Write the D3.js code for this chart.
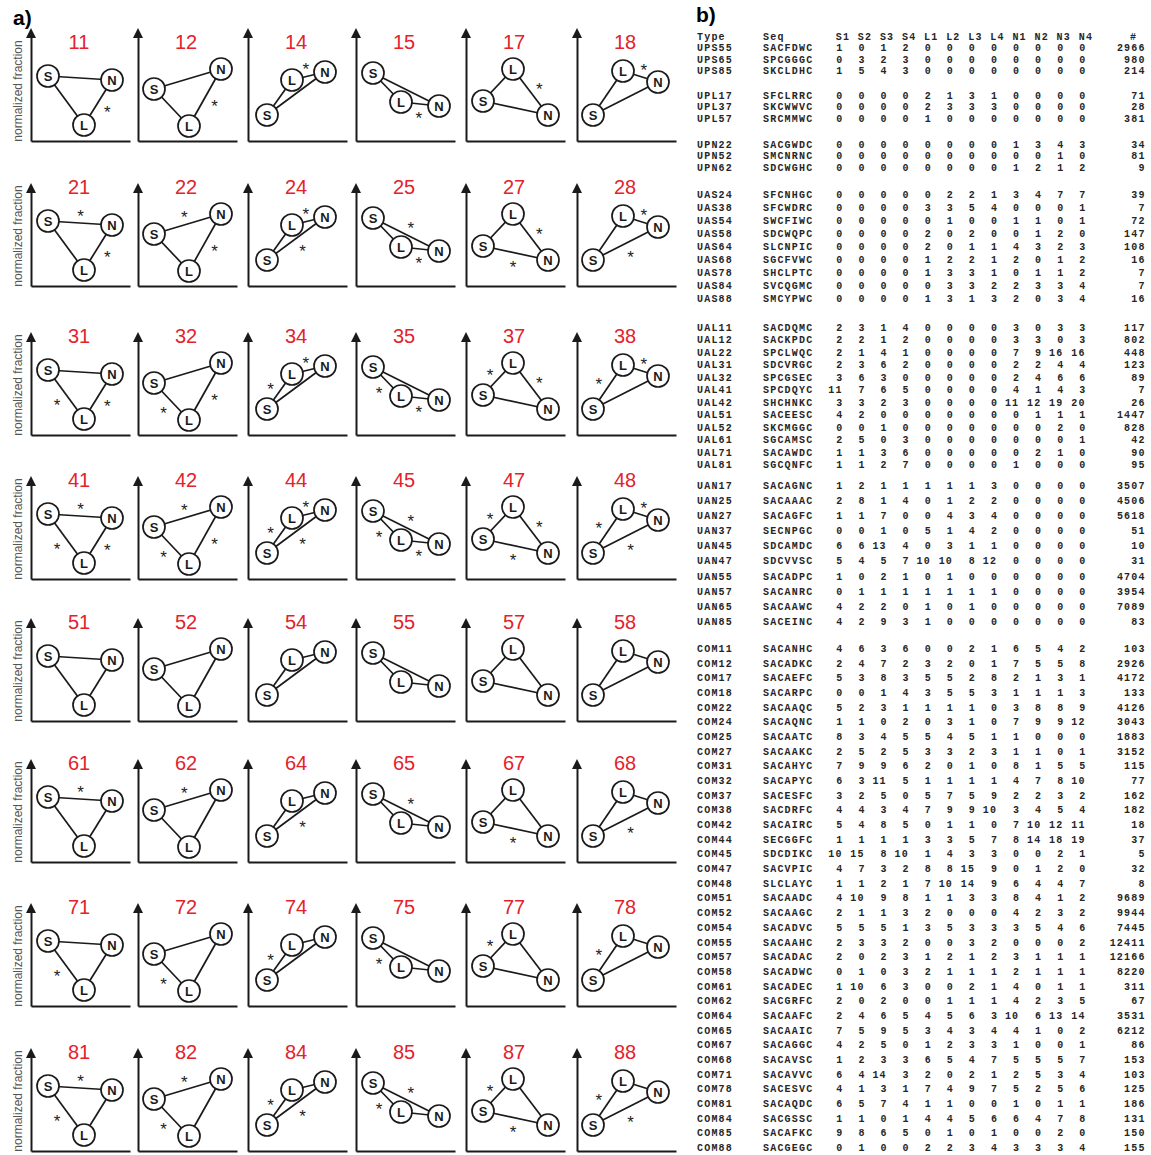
<!DOCTYPE html>
<html>
<head>
<meta charset="utf-8">
<script src="https://cdn.jsdelivr.net/npm/d3@7"></script>
<style>
  body { margin: 0; background: #fff; }
  svg { display: block; }
</style>
</head>
<body>
<svg id="fig" width="1151" height="1155"></svg>
<script>
// ---------- panel a: motif glyphs ----------
// first digit of a motif code = significance pattern (row), second digit = level pattern (column)
const rowDigits = [1, 2, 3, 4, 5, 6, 7, 8];
const colDigits = [1, 2, 4, 5, 7, 8];
// schematic [position, normalized fraction] of the S, L and N domains for each level pattern
const posS = [[0.17, 0.65], [0.16, 0.52], [0.19, 0.26], [0.17, 0.68], [0.17, 0.40], [0.16, 0.26]];
const posL = [[0.53, 0.16], [0.51, 0.15], [0.44, 0.61], [0.45, 0.39], [0.47, 0.72], [0.46, 0.70]];
const posN = [[0.81, 0.61], [0.83, 0.72], [0.77, 0.69], [0.83, 0.35], [0.82, 0.26], [0.81, 0.59]];
// edges flagged as significant (*) for each significance pattern
const starSets = [["LN"], ["SN", "LN"], ["SL", "LN"], ["SL", "SN", "LN"], [], ["SN"], ["SL"], ["SL", "SN"]];

// ---------- panel b: sequence table ----------
const columns = ["S1", "S2", "S3", "S4", "L1", "L2", "L3", "L4", "N1", "N2", "N3", "N4"];
const types = [
  "UPS55", "UPS65", "UPS85",
  "UPL17", "UPL37", "UPL57",
  "UPN22", "UPN52", "UPN62",
  "UAS24", "UAS38", "UAS54", "UAS58", "UAS64", "UAS68", "UAS78", "UAS84", "UAS88",
  "UAL11", "UAL12", "UAL22", "UAL31", "UAL32", "UAL41", "UAL42", "UAL51", "UAL52", "UAL61", "UAL71", "UAL81",
  "UAN17", "UAN25", "UAN27", "UAN37", "UAN45", "UAN47", "UAN55", "UAN57", "UAN65", "UAN85",
  "COM11", "COM12", "COM17", "COM18", "COM22", "COM24", "COM25", "COM27", "COM31", "COM32",
  "COM37", "COM38", "COM42", "COM44", "COM45", "COM47", "COM48", "COM51", "COM52", "COM54",
  "COM55", "COM57", "COM58", "COM61", "COM62", "COM64", "COM65", "COM67", "COM68", "COM71",
  "COM78", "COM81", "COM84", "COM85", "COM88"
];
const seqs = [
  "SACFDWC", "SPCGGGC", "SKCLDHC",
  "SFCLRRC", "SKCWWVC", "SRCMMWC",
  "SACGWDC", "SMCNRNC", "SDCWGHC",
  "SFCNHGC", "SFCWDRC", "SWCFIWC", "SDCWQPC", "SLCNPIC", "SGCFVWC", "SHCLPTC", "SVCQGMC", "SMCYPWC",
  "SACDQMC", "SACKPDC", "SPCLWQC", "SDCVRGC", "SPCGSEC", "SPCDQYC", "SHCHNKC", "SACEESC", "SKCMGGC", "SGCAMSC", "SACAWDC", "SGCQNFC",
  "SACAGNC", "SACAAAC", "SACAGFC", "SECNPGC", "SDCAMDC", "SDCVVSC", "SACADPC", "SACANRC", "SACAAWC", "SACEINC",
  "SACANHC", "SACADKC", "SACAEFC", "SACARPC", "SACAAQC", "SACAQNC", "SACAATC", "SACAAKC", "SACAHYC", "SACAPYC",
  "SACESFC", "SACDRFC", "SACAIRC", "SECGGFC", "SDCDIKC", "SACVPIC", "SLCLAYC", "SACAADC", "SACAAGC", "SACADVC",
  "SACAAHC", "SACADAC", "SACADWC", "SACADEC", "SACGRFC", "SACAAFC", "SACAAIC", "SACAGGC", "SACAVSC", "SACAVVC",
  "SACESVC", "SACAQDC", "SACGSSC", "SACAFKC", "SACGEGC"
];
const counts = [
  [1,0,1,2,0,0,0,0,0,0,0,0], [0,3,2,3,0,0,0,0,0,0,0,0], [1,5,4,3,0,0,0,0,0,0,0,0],
  [0,0,0,0,2,1,3,1,0,0,0,0], [0,0,0,0,2,3,3,3,0,0,0,0], [0,0,0,0,1,0,0,0,0,0,0,0],
  [0,0,0,0,0,0,0,0,1,3,4,3], [0,0,0,0,0,0,0,0,0,0,1,0], [0,0,0,0,0,0,0,0,1,2,1,2],
  [0,0,0,0,0,2,2,1,3,4,7,7], [0,0,0,0,3,3,5,4,0,0,0,1], [0,0,0,0,0,1,0,0,1,1,0,1],
  [0,0,0,0,2,0,2,0,0,1,2,0], [0,0,0,0,2,0,1,1,4,3,2,3], [0,0,0,0,1,2,2,1,2,0,1,2],
  [0,0,0,0,1,3,3,1,0,1,1,2], [0,0,0,0,0,3,3,2,2,3,3,4], [0,0,0,0,1,3,1,3,2,0,3,4],
  [2,3,1,4,0,0,0,0,3,0,3,3], [2,2,1,2,0,0,0,0,3,3,0,3], [2,1,4,1,0,0,0,0,7,9,16,16],
  [2,3,6,2,0,0,0,0,2,2,4,4], [3,6,3,0,0,0,0,0,2,4,6,6], [11,7,6,5,0,0,0,0,4,1,4,3],
  [3,3,2,3,0,0,0,0,11,12,19,20], [4,2,0,0,0,0,0,0,0,1,1,1], [0,0,1,0,0,0,0,0,0,0,2,0],
  [2,5,0,3,0,0,0,0,0,0,0,1], [1,1,3,6,0,0,0,0,0,2,1,0], [1,1,2,7,0,0,0,0,1,0,0,0],
  [1,2,1,1,1,1,1,3,0,0,0,0], [2,8,1,4,0,1,2,2,0,0,0,0], [1,1,7,0,0,4,3,4,0,0,0,0],
  [0,0,1,0,5,1,4,2,0,0,0,0], [6,6,13,4,0,3,1,1,0,0,0,0], [5,4,5,7,10,10,8,12,0,0,0,0],
  [1,0,2,1,0,1,0,0,0,0,0,0], [0,1,1,1,1,1,1,1,0,0,0,0], [4,2,2,0,1,0,1,0,0,0,0,0],
  [4,2,9,3,1,0,0,0,0,0,0,0],
  [4,6,3,6,0,0,2,1,6,5,4,2], [2,4,7,2,3,2,0,1,7,5,5,8], [5,3,8,3,5,5,2,8,2,1,3,1],
  [0,0,1,4,3,5,5,3,1,1,1,3], [5,2,3,1,1,1,1,0,3,8,8,9], [1,1,0,2,0,3,1,0,7,9,9,12],
  [8,3,4,5,5,4,5,1,1,0,0,0], [2,5,2,5,3,3,2,3,1,1,0,1], [7,9,9,6,2,0,1,0,8,1,5,5],
  [6,3,11,5,1,1,1,1,4,7,8,10], [3,2,5,0,5,7,5,9,2,2,3,2], [4,4,3,4,7,9,9,10,3,4,5,4],
  [5,4,8,5,0,1,1,0,7,10,12,11], [1,1,1,1,3,3,5,7,8,14,18,19], [10,15,8,10,1,4,3,3,0,0,2,1],
  [4,7,3,2,8,8,15,9,0,1,2,0], [1,1,2,1,7,10,14,9,6,4,4,7], [4,10,9,8,1,1,3,3,8,4,1,2],
  [2,1,1,3,2,0,0,0,4,2,3,2], [5,5,5,1,3,5,3,3,3,5,4,6], [2,3,3,2,0,0,3,2,0,0,0,2],
  [2,0,2,3,1,2,1,2,3,1,1,1], [0,1,0,3,2,1,1,1,2,1,1,1], [1,10,6,3,0,0,2,1,4,0,1,1],
  [2,0,2,0,0,1,1,1,4,2,3,5], [2,4,6,5,4,5,6,3,10,6,13,14], [7,5,9,5,3,4,3,4,4,1,0,2],
  [4,2,5,0,1,2,3,3,1,0,0,1], [1,2,3,3,6,5,4,7,5,5,5,7], [6,4,14,3,2,0,2,1,2,5,3,4],
  [4,1,3,1,7,4,9,7,5,2,5,6], [6,5,7,4,1,1,0,0,1,0,1,1], [1,1,0,1,4,4,5,6,6,4,7,8],
  [9,8,6,5,0,1,0,1,0,0,2,0], [0,1,0,0,2,2,3,4,3,3,3,4]
];
const totals = [
  2966, 980, 214,
  71, 28, 381,
  34, 81, 9,
  39, 7, 72, 147, 108, 16, 7, 7, 16,
  117, 802, 448, 123, 89, 7, 26, 1447, 828, 42, 90, 95,
  3507, 4506, 5618, 51, 10, 31, 4704, 3954, 7089, 83,
  103, 2926, 4172, 133, 4126, 3043, 1883, 3152, 115, 77,
  162, 182, 18, 37, 5, 32, 8, 9689, 9944, 7445,
  12411, 12166, 8220, 311, 67, 3531, 6212, 86, 153, 103,
  125, 186, 131, 150, 155
];

// ---------- drawing ----------
const svg = d3.select("#fig");
const SANS = "'Liberation Sans', Arial, Helvetica, sans-serif";
const MONO = "'Liberation Mono', 'Courier New', monospace";

// panel labels
svg.append("text").attr("x", 13).attr("y", 25)
  .attr("font-family", SANS).attr("font-weight", "bold").attr("font-size", 21).text("a)");
svg.append("text").attr("x", 696).attr("y", 22)
  .attr("font-family", SANS).attr("font-weight", "bold").attr("font-size", 21).text("b)");

// grid placement of the small plots (origin = axis corner)
const cellX = [31, 138, 248, 356, 466, 577];
const rowBase = [141, 286, 435, 579, 721, 862, 1006, 1151];
const axisTop = [113, 103, 103, 103, 103, 103, 103, 103];

const xs = d3.scaleLinear().domain([0, 1]).range([0, 100]);
const ys = d3.scaleLinear().domain([0, 1]).range([0, -100]);

function starPoint(a, b, c, off) {
  const mx = (a[0] + b[0]) / 2, my = (a[1] + b[1]) / 2;
  let nx = -(b[1] - a[1]), ny = b[0] - a[0];
  const len = Math.hypot(nx, ny);
  nx /= len; ny /= len;
  if ((c[0] - mx) * nx + (c[1] - my) * ny > 0) { nx = -nx; ny = -ny; }
  return [mx + nx * off, my + ny * off];
}

rowDigits.forEach((rd, r) => {
  colDigits.forEach((cd, c) => {
    const g = svg.append("g").attr("transform", `translate(${cellX[c]},${rowBase[r]})`);
    const top = axisTop[r];

    // axes: bare domain lines, y axis with an arrow head
    const xAxisScale = xs.copy().domain([0, 0.99]).range([0, 99]);
    const yAxisScale = ys.copy().domain([0, (top - 9) / 100]).range([0, -(top - 9)]);
    const ax = g.append("g").call(d3.axisBottom(xAxisScale).tickValues([]).tickSizeOuter(0));
    const ay = g.append("g").call(d3.axisLeft(yAxisScale).tickValues([]).tickSizeOuter(0));
    [ax, ay].forEach(a => a.select(".domain").attr("stroke", "#1a1a1a").attr("stroke-width", 2));
    g.append("path")
      .attr("d", `M-5,${-(top - 10)}L5,${-(top - 10)}L0,${-top}Z`)
      .attr("fill", "#1a1a1a");

    if (c === 0) {
      g.append("text")
        .attr("transform", `translate(-9,-50) rotate(-90)`)
        .attr("text-anchor", "middle")
        .attr("font-family", SANS).attr("font-size", 12).attr("fill", "#555")
        .text("normalized fraction");
    }

    // motif code
    g.append("text")
      .attr("x", 48).attr("y", -92)
      .attr("text-anchor", "middle")
      .attr("font-family", SANS).attr("font-size", 20).attr("fill", "#e4222b")
      .text(`${rd}${cd}`);

    const P = {
      S: [xs(posS[c][0]), ys(posS[c][1])],
      L: [xs(posL[c][0]), ys(posL[c][1])],
      N: [xs(posN[c][0]), ys(posN[c][1])]
    };
    const edges = [["S", "L"], ["S", "N"], ["L", "N"]];
    g.selectAll("line.edge").data(edges).join("line")
      .attr("class", "edge")
      .attr("x1", d => P[d[0]][0]).attr("y1", d => P[d[0]][1])
      .attr("x2", d => P[d[1]][0]).attr("y2", d => P[d[1]][1])
      .attr("stroke", "#1a1a1a").attr("stroke-width", 1.7);

    const stars = starSets[r].map(key => {
      const a = key[0], b = key[1];
      const third = ["S", "L", "N"].find(k => k !== a && k !== b);
      return starPoint(P[a], P[b], P[third], 11);
    });
    g.selectAll("text.star").data(stars).join("text")
      .attr("class", "star")
      .attr("x", d => d[0]).attr("y", d => d[1] + 9.5)
      .attr("text-anchor", "middle")
      .attr("font-family", SANS).attr("font-size", 17).attr("fill", "#222")
      .text("*");

    const nodes = g.selectAll("g.node").data(["S", "L", "N"]).join("g")
      .attr("class", "node")
      .attr("transform", k => `translate(${P[k][0]},${P[k][1]})`);
    nodes.append("circle").attr("r", 11)
      .attr("fill", "#fff").attr("stroke", "#1a1a1a").attr("stroke-width", 1.7);
    nodes.append("text")
      .attr("text-anchor", "middle").attr("dy", "0.36em")
      .attr("font-family", SANS).attr("font-weight", "bold").attr("font-size", 13).attr("fill", "#1a1a1a")
      .text(k => k);
  });
});

// ---------- table ----------
// vertical placement of each block of rows: [first row centre, row pitch]
const blockLayout = {
  UPS: [47.5, 11.5], UPL: [95, 11.5], UPN: [144, 11.7],
  UAS: [194, 13.0], UAL: [327, 12.5], UAN: [485, 15.15], COM: [648.5, 14.67]
};
const LS = 1.2; // extra tracking so the 10px mono keeps a 7.2px character pitch
const colScale = d3.scalePoint().domain(columns).range([839.3, 1082.3]);
const tbl = svg.append("g")
  .attr("font-family", MONO).attr("font-size", 10).attr("font-weight", "bold")
  .attr("letter-spacing", LS).attr("fill", "#262626");

const headerY = 40;
tbl.append("text").attr("x", 697).attr("y", headerY).text("Type");
tbl.append("text").attr("x", 763).attr("y", headerY).text("Seq");
tbl.selectAll("text.colhead").data(columns).join("text")
  .attr("class", "colhead")
  .attr("x", d => colScale(d) + 3 + LS / 2).attr("y", headerY)
  .attr("text-anchor", "middle").text(d => d);
tbl.append("text").attr("x", 1133 + LS / 2).attr("y", headerY).attr("text-anchor", "middle").text("#");

const blockIndex = {};
const rowsData = types.map((t, i) => {
  const block = t.slice(0, 3);
  const k = blockIndex[block] = (blockIndex[block] === undefined ? 0 : blockIndex[block] + 1);
  const [y0, pitch] = blockLayout[block];
  return { type: t, seq: seqs[i], vals: counts[i], total: totals[i], y: y0 + k * pitch + 3.6 };
});

const rowG = tbl.selectAll("g.row").data(rowsData).join("g").attr("class", "row");
rowG.append("text").attr("x", 697).attr("y", d => d.y).text(d => d.type);
rowG.append("text").attr("x", 763).attr("y", d => d.y).text(d => d.seq);
rowG.each(function (d) {
  d3.select(this).selectAll("text.v").data(d.vals.map((v, j) => ({ v, col: columns[j] }))).join("text")
    .attr("class", "v")
    .attr("x", e => colScale(e.col) - (String(e.v).length - 1) * 4.5 + LS / 2)
    .attr("y", d.y)
    .attr("text-anchor", "middle")
    .text(e => e.v);
});
rowG.append("text").attr("x", 1144.5 + LS).attr("y", d => d.y).attr("text-anchor", "end").text(d => d.total);
</script>
</body>
</html>
